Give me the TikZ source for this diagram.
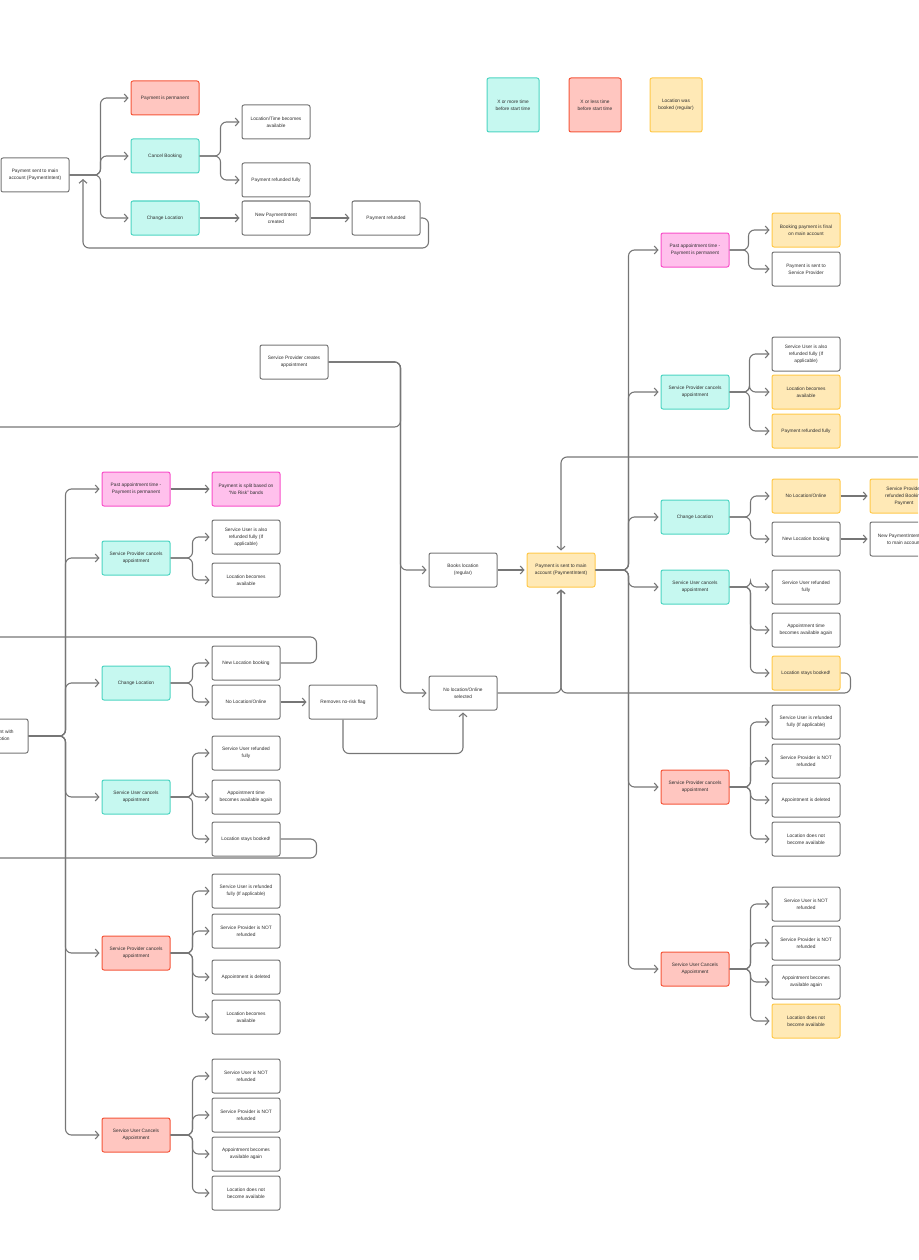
\documentclass[tikz,border=0pt]{standalone}
\usepackage{fontspec}
\setmainfont{Liberation Sans}
\usetikzlibrary{arrows.meta}
\definecolor{ink}{HTML}{2E2E2E}
\definecolor{linegray}{HTML}{767676}
\definecolor{tealfill}{HTML}{C6F8F0}
\definecolor{tealline}{HTML}{4CD4C2}
\definecolor{redfill}{HTML}{FFC6C0}
\definecolor{redline}{HTML}{F5563A}
\definecolor{amberfill}{HTML}{FFE9B6}
\definecolor{amberline}{HTML}{FFC94A}
\definecolor{pinkfill}{HTML}{FFC0EC}
\definecolor{pinkline}{HTML}{F84FC9}
\tikzset{
box/.style = {draw=linegray, fill=white, rounded corners=2pt, line width=1pt,
              minimum width=68pt, minimum height=34pt, inner sep=1pt,
              align=center, text=ink, font=\fontsize{4.8}{6.8}\selectfont},
tealbox/.style = {box, draw=tealline, fill=tealfill},
redbox/.style = {box, draw=redline, fill=redfill},
amberbox/.style = {box, draw=amberline, fill=amberfill},
pinkbox/.style = {box, draw=pinkline, fill=pinkfill},
keybox/.style = {minimum width=52pt, minimum height=54pt},
plain/.style = {draw=linegray, line width=1.1pt, rounded corners=6pt},
flow/.style = {plain, -{Straight Barb[length=3.5pt,width=8pt]}, shorten >=2pt}
}
\newcommand{\bx}[4]{\node[#1] (#2) at (#3) {#4};}
\newcommand{\arr}[2]{\draw[flow] (#1.east) -- (#2.west);}
\newcommand{\fork}[3]{\draw[flow] (#1.east) -- ++(#2,0) |- (#3.west);}
\begin{document}
\begin{tikzpicture}[x=1pt, y=-1pt]
    \clip (0,0) rectangle (918,1260);
    \useasboundingbox (0,0) rectangle (918,1260);

    % change of location, top left
    \bx{box}{pay0}{35,175}{Payment sent to main\\account (PaymentIntent)};
    \bx{redbox}{perm0}{165,98}{Payment is permanent};
    \bx{tealbox}{cancel0}{165,156}{Cancel Booking};
    \bx{tealbox}{chloc0}{165,218}{Change Location};
    \bx{box}{free0}{276,122}{Location/Time becomes\\available};
    \bx{box}{refund0}{276,180}{Payment refunded fully};
    \bx{box}{newpi0}{276,218}{New PaymentIntent\\created};
    \bx{box}{prefund0}{386,218}{Payment refunded};
    \coordinate (back0) at (83,177);

    \fork{pay0}{31}{perm0};
    \fork{pay0}{31}{cancel0};
    \fork{pay0}{31}{chloc0};
    \fork{cancel0}{21}{free0};
    \fork{cancel0}{21}{refund0};
    \arr{chloc0}{newpi0};
    \arr{newpi0}{prefund0};
    \draw[flow] (prefund0.east) -- ++(8,0) |- (83,248) -- (back0);

    % legend
    \bx{tealbox, keybox}{key1}{513,105}{X or more time\\before start time};
    \bx{redbox, keybox}{key2}{595,105}{X or less time\\before start time};
    \bx{amberbox, keybox}{key3}{676,105}{Location was\\booked (regular)};

    % start of booking
    \bx{box}{spc}{294,362}{Service Provider creates\\appointment};
    \bx{box}{books}{463,570}{Books location\\(regular)};
    \bx{box}{noloc}{463,693}{No location/Online\\selected};
    \bx{amberbox}{pay1}{561,570}{Payment is sent to main\\account (PaymentIntent)};
    \coordinate (toL1) at (-10,427);
    \coordinate (fromR) at (930,457);

    \draw[plain] (spc.east) -- ++(72,0) |- (toL1);
    \fork{spc}{72}{books};
    \fork{spc}{72}{noloc};
    \arr{books}{pay1};
    \draw[flow] (fromR) -| (pay1.north);
    \draw[flow] (noloc.east) -| (pay1.south);

    % location booked, right
    \bx{pinkbox}{pastR}{695,250}{Past appointment time -\\Payment is permanent};
    \bx{tealbox}{spcR}{695,392}{Service Provider cancels\\appointment};
    \bx{tealbox}{chlocR}{695,517}{Change Location};
    \bx{tealbox}{sucR}{695,587}{Service User cancels\\appointment};
    \bx{redbox}{spcxR}{695,787}{Service Provider cancels\\appointment};
    \bx{redbox}{sucxR}{695,969}{Service User Cancels\\Appointment};

    \bx{amberbox}{finalR}{806,230}{Booking payment is final\\on main account};
    \bx{box}{toSPR}{806,269}{Payment is sent to\\Service Provider};
    \bx{box}{alsoR}{806,354}{Service User is also\\refunded fully (If\\applicable)};
    \bx{amberbox}{freeR}{806,392}{Location becomes\\available};
    \bx{amberbox}{fullR}{806,431}{Payment refunded fully};
    \bx{amberbox}{onlineR}{806,496}{No Location/Online};
    \bx{box}{newlocR}{806,539}{New Location booking};
    \bx{amberbox}{sprefR}{904,496}{Service Provider\\refunded Booking\\Payment};
    \bx{box}{newpiR}{904,539}{New PaymentIntent sent\\to main account};
    \bx{box}{surefR}{806,587}{Service User refunded\\fully};
    \bx{box}{timeR}{806,630}{Appointment time\\becomes available again};
    \bx{amberbox}{stayR}{806,673}{Location stays booked!};
    \bx{box}{urefR}{806,722}{Service User is refunded\\fully (If applicable)};
    \bx{box}{spnotR}{806,761}{Service Provider is NOT\\refunded};
    \bx{box}{delR}{806,800}{Appointment is deleted};
    \bx{box}{keepR}{806,839}{Location does not\\become available};
    \bx{box}{unotR}{806,904}{Service User is NOT\\refunded};
    \bx{box}{spnot2R}{806,943}{Service Provider is NOT\\refunded};
    \bx{box}{againR}{806,982}{Appointment becomes\\available again};
    \bx{amberbox}{keep2R}{806,1021}{Location does not\\become available};

    \fork{pay1}{33}{pastR};
    \fork{pay1}{33}{spcR};
    \fork{pay1}{33}{chlocR};
    \fork{pay1}{33}{sucR};
    \fork{pay1}{33}{spcxR};
    \fork{pay1}{33}{sucxR};
    \fork{pastR}{19}{finalR};
    \fork{pastR}{19}{toSPR};
    \fork{spcR}{20}{alsoR};
    \fork{spcR}{20}{freeR};
    \fork{spcR}{20}{fullR};
    \fork{chlocR}{21}{onlineR};
    \fork{chlocR}{21}{newlocR};
    \arr{onlineR}{sprefR};
    \arr{newlocR}{newpiR};
    \fork{sucR}{21}{surefR};
    \fork{sucR}{21}{timeR};
    \fork{sucR}{21}{stayR};
    \fork{spcxR}{21}{urefR};
    \fork{spcxR}{21}{spnotR};
    \fork{spcxR}{21}{delR};
    \fork{spcxR}{21}{keepR};
    \fork{sucxR}{21}{unotR};
    \fork{sucxR}{21}{spnot2R};
    \fork{sucxR}{21}{againR};
    \fork{sucxR}{21}{keep2R};
    \draw[flow] (stayR.east) -- ++(10,0) |- (561,693) -- (pay1.south);

    % no-risk booking, left
    \bx{box}{startL}{-6,736}{Payment sent with\\No Risk option};
    \bx{pinkbox}{pastL}{136,489}{Past appointment time -\\Payment is permanent};
    \bx{tealbox}{spcL}{136,558}{Service Provider cancels\\appointment};
    \bx{tealbox}{chlocL}{136,683}{Change Location};
    \bx{tealbox}{sucL}{136,797}{Service User cancels\\appointment};
    \bx{redbox}{spcxL}{136,953}{Service Provider cancels\\appointment};
    \bx{redbox}{sucxL}{136,1135}{Service User Cancels\\Appointment};

    \bx{pinkbox}{splitL}{246,489}{Payment is split based on\\``No Risk'' bands};
    \bx{box}{alsoL}{246,537}{Service User is also\\refunded fully (If\\applicable)};
    \bx{box}{freeL}{246,580}{Location becomes\\available};
    \bx{box}{newlocL}{246,663}{New Location booking};
    \bx{box}{onlineL}{246,702}{No Location/Online};
    \bx{box}{rmvL}{343,702}{Removes no-risk flag};
    \bx{box}{surefL}{246,753}{Service User refunded\\fully};
    \bx{box}{timeL}{246,797}{Appointment time\\becomes available again};
    \bx{box}{stayL}{246,839}{Location stays booked!};
    \bx{box}{urefL}{246,891}{Service User is refunded\\fully (If applicable)};
    \bx{box}{spnotL}{246,931}{Service Provider is NOT\\refunded};
    \bx{box}{delL}{246,977}{Appointment is deleted};
    \bx{box}{freexL}{246,1017}{Location becomes\\available};
    \bx{box}{unotL}{246,1076}{Service User is NOT\\refunded};
    \bx{box}{spnot2L}{246,1115}{Service Provider is NOT\\refunded};
    \bx{box}{againL}{246,1154}{Appointment becomes\\available again};
    \bx{box}{keepL}{246,1193}{Location does not\\become available};
    \coordinate (toL2) at (-10,637);
    \coordinate (toL3) at (-10,858);

    \fork{startL}{37}{pastL};
    \fork{startL}{37}{spcL};
    \fork{startL}{37}{chlocL};
    \fork{startL}{37}{sucL};
    \fork{startL}{37}{spcxL};
    \fork{startL}{37}{sucxL};
    \arr{pastL}{splitL};
    \fork{spcL}{22}{alsoL};
    \fork{spcL}{22}{freeL};
    \fork{chlocL}{22}{newlocL};
    \fork{chlocL}{22}{onlineL};
    \arr{onlineL}{rmvL};
    \draw[flow] (rmvL.south) -- ++(0,34) -| (noloc.south);
    \draw[plain] (newlocL.east) -- ++(36,0) |- (toL2);
    \fork{sucL}{22}{surefL};
    \fork{sucL}{22}{timeL};
    \fork{sucL}{22}{stayL};
    \draw[plain] (stayL.east) -- ++(36,0) |- (toL3);
    \fork{spcxL}{22}{urefL};
    \fork{spcxL}{22}{spnotL};
    \fork{spcxL}{22}{delL};
    \fork{spcxL}{22}{freexL};
    \fork{sucxL}{22}{unotL};
    \fork{sucxL}{22}{spnot2L};
    \fork{sucxL}{22}{againL};
    \fork{sucxL}{22}{keepL};
\end{tikzpicture}
\end{document}
